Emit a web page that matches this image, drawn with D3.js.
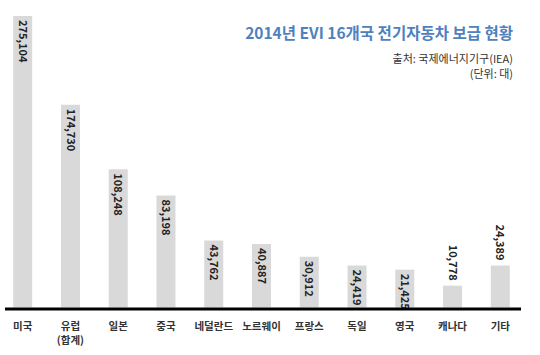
<!DOCTYPE html>
<html><head><meta charset="utf-8">
<script src="https://cdn.jsdelivr.net/npm/d3@7/dist/d3.min.js"></script>
<style>
html,body{margin:0;padding:0;background:#fff;}
svg{display:block;}
text{font-family:"Noto Sans CJK KR","Noto Sans",sans-serif;}
</style></head>
<body>
<svg id="chart" width="540" height="355"></svg>
<script>
const categories = ["미국","유럽\n(합계)","일본","중국","네덜란드","노르웨이","프랑스","독일","영국","캐나다","기타"];
const values = [275104,174730,108248,83198,43762,40887,30912,24419,21425,10778,24389];
const labelsAbove = ["캐나다","기타"];
const title = "2014년 EVI 16개국 전기자동차 보급 현황";
const source = "출처: 국제에너지기구(IEA)";
const unit = "(단위: 대)";

const svg = d3.select("#chart");
const base = 307.5;
const x = d3.scalePoint().domain(categories).range([22.7, 500.3]);
const y = d3.scalePow().exponent(0.8).domain([0, d3.max(values)]).range([base, 16]);
const bw = 19;
const fmt = d3.format(",");

const data = categories.map((c,i)=>({c, v: values[i]}));

svg.selectAll("rect.bar").data(data).enter().append("rect")
  .attr("class","bar")
  .attr("x", d=>x(d.c)-bw/2)
  .attr("y", d=>y(d.v))
  .attr("width", bw)
  .attr("height", d=>base-y(d.v))
  .attr("fill","#d9d9d9");

svg.selectAll("text.val").data(data).enter().append("text")
  .attr("class","val")
  .attr("transform", d=>{
    const above = labelsAbove.includes(d.c.split("\n")[0]);
    const yy = above ? y(d.v)-5 : y(d.v)+4;
    return `translate(${x(d.c)},${yy}) rotate(90)`;
  })
  .attr("text-anchor", d=>labelsAbove.includes(d.c.split("\n")[0]) ? "end" : "start")
  .attr("dy","0.35em")
  .attr("font-size","11px")
  .attr("font-weight","bold")
  .attr("fill","#222")
  .text(d=>fmt(d.v));

svg.append("line").attr("x1",5).attr("x2",521).attr("y1",309).attr("y2",309)
  .attr("stroke","#000").attr("stroke-width",3);

const cat = svg.selectAll("text.cat").data(data).enter().append("text")
  .attr("class","cat")
  .attr("x", d=>x(d.c))
  .attr("y", 330)
  .attr("text-anchor","middle")
  .attr("font-size","10.5px")
  .attr("font-weight","bold")
  .attr("fill","#333");
cat.each(function(d){
  const lines = d.c.split("\n");
  d3.select(this).selectAll("tspan").data(lines).enter().append("tspan")
    .attr("x", x(d.c)).attr("dy",(l,i)=>i===0?0:14).text(l=>l);
});

svg.append("text").attr("x",513).attr("y",39).attr("text-anchor","end")
  .attr("font-size","15.5px").attr("font-weight","bold").attr("fill","#4f81bd").text(title);
svg.append("text").attr("x",513).attr("y",63).attr("text-anchor","end")
  .attr("font-size","11px").attr("fill","#333").text(source);
svg.append("text").attr("x",513).attr("y",78).attr("text-anchor","end")
  .attr("font-size","11px").attr("fill","#333").text(unit);
</script>
</body></html>
